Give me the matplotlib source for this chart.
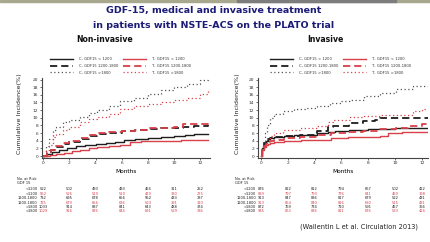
import matplotlib
matplotlib.use("Agg")
import matplotlib.pyplot as plt
import matplotlib.patches as mpatches

# ---------------- data ----------------
title_lines = ["GDF-15, medical and invasive treatment",
               "in patients with NSTE-ACS on the PLATO trial"]
panel_titles = ["Non-invasive", "Invasive"]
series_labels = ["C, GDF15 < 1200", "C, GDF15 1200-1800", "C, GDF15 >1800",
                 "T, GDF15 < 1200", "T, GDF15 1200-1800", "T, GDF15 >1800"]
x_ticks = [0, 2, 4, 6, 8, 10, 12]
y_ticks = [0, 2, 4, 6, 8, 10, 12, 14, 16, 18, 20]
risk_row_labels = ["<1200", "<1200", "1200-1800", "1200-1800", ">1800", ">1800"]
risk_months = [0, 2, 4, 6, 8, 10, 12]

# Non-invasive curves (months, cumulative incidence %)
ni_c_low_t = [0, 0.3, 0.7, 1.2, 1.8, 2.5, 3.2, 4.0, 4.8, 5.5, 6.2, 7.0, 8.0, 9.0, 10.0, 10.8, 11.5, 12.6]
ni_c_low_v = [0, 0.5, 1.0, 1.6, 2.1, 2.7, 2.9, 3.1, 3.4, 3.7, 4.1, 4.5, 4.8, 5.0, 5.3, 5.6, 5.8, 5.8]
ni_t_low_t = [0, 0.5, 1.0, 1.6, 2.2, 2.8, 3.5, 4.1, 5.0, 5.9, 6.6, 7.5, 8.5, 9.5, 10.5, 11.3, 12.6]
ni_t_low_v = [0, 0.3, 0.5, 0.8, 1.2, 1.6, 2.0, 2.4, 2.7, 2.9, 3.6, 3.8, 3.9, 4.0, 4.2, 4.3, 4.3]
ni_c_mid_t = [0, 0.3, 0.6, 1.0, 1.5, 2.0, 2.8, 3.5, 4.1, 5.0, 6.0, 7.0, 8.0, 9.0, 10.0, 10.7, 11.5, 12.6]
ni_c_mid_v = [0, 0.8, 1.5, 2.3, 3.1, 3.7, 4.5, 5.3, 5.8, 6.1, 6.5, 6.9, 7.1, 7.3, 7.4, 7.6, 7.9, 8.0]
ni_t_mid_t = [0, 0.3, 0.6, 1.0, 1.5, 2.0, 2.8, 3.5, 4.1, 5.0, 6.0, 7.0, 8.0, 9.0, 10.0, 10.7, 11.5, 12.6]
ni_t_mid_v = [0, 0.9, 1.6, 2.5, 3.3, 3.9, 4.8, 5.5, 5.9, 6.2, 6.6, 6.9, 7.2, 7.4, 7.7, 8.3, 8.5, 8.6]
ni_c_high_t = [0, 0.2, 0.4, 0.76, 1.0, 1.5, 2.0, 2.8, 3.5, 4.1, 5.0, 5.9, 6.9, 8.0, 9.0, 10.0, 11.0, 12.0, 12.6]
ni_c_high_v = [0, 2.5, 4.5, 6.7, 7.7, 8.8, 9.5, 10.3, 11.2, 12.0, 13.0, 14.3, 15.2, 16.2, 17.2, 18.0, 18.9, 20.0, 20.8]
ni_t_high_t = [0, 0.2, 0.4, 0.76, 1.0, 1.5, 2.0, 2.8, 3.5, 4.1, 5.0, 5.9, 6.9, 8.0, 9.0, 10.0, 11.0, 12.0, 12.6]
ni_t_high_v = [0, 1.5, 3.0, 5.0, 5.7, 6.7, 7.6, 8.9, 9.6, 10.2, 11.0, 12.3, 13.0, 13.6, 14.1, 14.6, 15.2, 16.3, 17.1]

# Invasive curves
iv_c_low_t = [0, 0.05, 0.1, 0.2, 0.35, 0.5, 0.7, 1.0, 1.7, 2.5, 3.3, 4.2, 5.0, 5.5, 6.6, 8.0, 9.0, 10.0, 12.5]
iv_c_low_v = [0, 1.0, 2.0, 3.3, 4.0, 4.4, 4.75, 4.9, 5.2, 5.4, 5.6, 6.05, 6.3, 6.5, 6.9, 7.0, 7.0, 7.35, 7.35]
iv_t_low_t = [0, 0.05, 0.1, 0.2, 0.35, 0.5, 0.7, 1.0, 1.7, 3.0, 4.2, 5.2, 6.5, 7.7, 8.9, 9.5, 10.5, 11.5, 12.5]
iv_t_low_v = [0, 0.8, 1.5, 2.3, 2.9, 3.2, 3.4, 3.6, 3.9, 4.1, 4.3, 4.75, 4.9, 5.0, 5.2, 6.0, 6.2, 6.4, 6.5]
iv_c_mid_t = [0, 0.05, 0.1, 0.2, 0.35, 0.5, 0.7, 1.0, 1.7, 2.9, 4.2, 5.0, 5.4, 6.6, 7.6, 8.5, 8.9, 10.0, 12.5]
iv_c_mid_v = [0, 1.0, 2.0, 3.3, 4.0, 4.4, 4.75, 4.9, 5.2, 5.6, 6.5, 7.5, 7.8, 8.7, 9.1, 9.3, 10.0, 10.0, 10.0]
iv_t_mid_t = [0, 0.05, 0.1, 0.2, 0.35, 0.5, 0.7, 1.0, 1.7, 2.9, 4.2, 5.2, 6.5, 7.6, 8.8, 10.1, 11.0, 12.0, 12.5]
iv_t_mid_v = [0, 0.8, 1.6, 2.6, 3.2, 3.6, 3.9, 4.2, 4.6, 5.0, 5.5, 6.0, 6.4, 6.5, 7.0, 7.4, 7.9, 8.5, 8.8]
iv_c_high_t = [0, 0.05, 0.1, 0.17, 0.3, 0.45, 0.67, 1.0, 1.66, 2.5, 3.3, 4.16, 5.15, 6.0, 6.64, 7.7, 8.9, 10.1, 11.35, 12.5]
iv_c_high_v = [0, 1.0, 2.3, 3.9, 6.0, 8.2, 10.0, 11.0, 11.9, 12.2, 12.6, 13.0, 13.9, 14.5, 14.75, 15.6, 16.5, 17.4, 18.2, 18.2]
iv_t_high_t = [0, 0.05, 0.1, 0.17, 0.3, 0.45, 0.67, 1.0, 1.66, 2.9, 4.16, 5.0, 5.4, 6.64, 7.65, 8.9, 10.1, 11.35, 12.0, 12.5]
iv_t_high_v = [0, 0.7, 1.5, 2.6, 3.5, 4.4, 5.2, 6.0, 6.9, 7.3, 7.8, 9.0, 9.5, 10.2, 10.4, 10.6, 10.8, 11.7, 12.2, 12.6]

# Numbers at risk (rows in order of risk_row_labels; C then T alternating)
ni_risk = [[522, 502, 493, 483, 464, 311, 252],
           [552, 526, 519, 510, 429, 330, 275],
           [732, 695, 678, 656, 552, 433, 337],
           [725, 679, 656, 636, 524, 391, 310],
           [1033, 914, 887, 841, 643, 488, 374],
           [1029, 916, 876, 844, 691, 529, 386]]
iv_risk = [[876, 822, 812, 794, 667, 502, 412],
           [839, 797, 793, 776, 641, 469, 398],
           [913, 847, 836, 817, 679, 522, 431],
           [913, 854, 840, 816, 680, 515, 431],
           [872, 769, 734, 710, 591, 457, 366],
           [945, 863, 836, 811, 676, 533, 424]]

# ---------------- styling ----------------
BLACK = "#1e1e1e"
GRAY = "#555555"
RED = "#d8404a"
NAVY = "#1c1c78"

W, H = 430, 242
fig = plt.figure(figsize=(W / 100, H / 100), dpi=100)
fig.patch.set_facecolor("white")

# thin top bar
fig.patches.append(mpatches.Rectangle((0, 1 - 2.2 / H), 1, 2.2 / H, transform=fig.transFigure,
                                      color="#a7a88e", zorder=0))
fig.patches.append(mpatches.Rectangle((0.55, 1 - 2.2 / H), 0.37, 2.2 / H, transform=fig.transFigure,
                                      color="#7d7d7d", zorder=0))

fig.text(0.496, 1 - 10.5 / H, title_lines[0], ha="center", va="center",
         fontsize=6.8, fontweight="bold", color=NAVY)
fig.text(0.496, 1 - 25 / H, title_lines[1], ha="center", va="center",
         fontsize=6.8, fontweight="bold", color=NAVY)


def fx(px):
    return px / W


def fy(py):
    return 1 - py / H


panels = [
    dict(rect=[fx(41.7), fy(157.7), fx(210 - 41.7), (157.7 - 78) / H], xlim=(-0.12, 12.74),
         title_x=105, curves=[(ni_c_low_t, ni_c_low_v), (ni_c_mid_t, ni_c_mid_v), (ni_c_high_t, ni_c_high_v),
                              (ni_t_low_t, ni_t_low_v), (ni_t_mid_t, ni_t_mid_v), (ni_t_high_t, ni_t_high_v)],
         risk=ni_risk, ylabel_x=20, leg_anchor=(50, 57), label_right=37.5, risk_head_x=17),
    dict(rect=[fx(258), fy(157.7), fx(428 - 258), (157.7 - 78) / H], xlim=(-0.22, 12.46),
         title_x=325, curves=[(iv_c_low_t, iv_c_low_v), (iv_c_mid_t, iv_c_mid_v), (iv_c_high_t, iv_c_high_v),
                              (iv_t_low_t, iv_t_low_v), (iv_t_mid_t, iv_t_mid_v), (iv_t_high_t, iv_t_high_v)],
         risk=iv_risk, ylabel_x=238, leg_anchor=(270, 57), label_right=256, risk_head_x=235),
]

styles = [
    dict(color=BLACK, ls="-", lw=1.0),
    dict(color=BLACK, ls=(0, (4, 2.2)), lw=1.3),
    dict(color=GRAY, ls=(0, (1, 2)), lw=0.9),
    dict(color=RED, ls="-", lw=1.0),
    dict(color=RED, ls=(0, (4, 2.2)), lw=1.3),
    dict(color=RED, ls=(0, (1, 2)), lw=0.9),
]

TFS = 2.6
for idx, p in enumerate(panels):
    ax = fig.add_axes(p["rect"])
    handles = []
    for (t, v), st, lab in zip(p["curves"], styles, series_labels):
        h, = ax.plot(t, v, drawstyle="steps-post", label=lab, **st)
        handles.append(h)
    ax.set_xlim(*p["xlim"])
    ax.set_ylim(-0.44, 20.4)
    ax.set_xticks(x_ticks)
    ax.set_yticks(y_ticks)
    ax.tick_params(labelsize=3.2, length=1.6, width=0.5, pad=1, colors="#333333")
    for s in ["top", "right"]:
        ax.spines[s].set_visible(False)
    for s in ["left", "bottom"]:
        ax.spines[s].set_linewidth(0.8)
        ax.spines[s].set_color("#444444")
    ax.set_xlabel("Months", fontsize=4.2, labelpad=2.5)
    fig.text(fx(p["ylabel_x"]), fy(114), "Cumulative Incidence(%)", rotation=90,
             ha="center", va="center", fontsize=4.6, color="#222222")
    fig.text(fx(p["title_x"]), fy(39), panel_titles[idx],
             ha="center", va="center", fontsize=5.6, fontweight="bold", color="#111111")

    leg = fig.legend(handles=handles, loc="upper left",
                     bbox_to_anchor=(fx(p["leg_anchor"][0]), fy(p["leg_anchor"][1])),
                     ncol=2, fontsize=2.7, frameon=False, handlelength=6.0,
                     handletextpad=1.8, labelspacing=0.75, columnspacing=1.2,
                     borderpad=0, borderaxespad=0)
    for txt in leg.get_texts():
        txt.set_color("#333333")

    # number at risk table
    fig.text(fx(p["risk_head_x"]), fy(178.5), "No. at Risk", fontsize=TFS, va="center", color="#222222")
    fig.text(fx(p["risk_head_x"]), fy(183.3), "GDF 15", fontsize=TFS, va="center", color="#222222")
    row_y = [189, 193.6, 198.2, 202.6, 207, 211.4]
    for i, (lab, row) in enumerate(zip(risk_row_labels, p["risk"])):
        col = BLACK if i % 2 == 0 else RED
        fig.text(fx(p["label_right"]), fy(row_y[i]), lab, fontsize=TFS, ha="right", va="center", color="#222222")
        for m, val in zip(risk_months, row):
            xd = ax.transData.transform((m, 0))[0]
            xfig = fig.transFigure.inverted().transform((xd, 0))[0]
            fig.text(xfig, fy(row_y[i]), str(val), fontsize=TFS, ha="center", va="center", color=col)

fig.text(fx(359), fy(227), "(Wallentin L et al. Circulation 2013)", ha="center", va="center",
         fontsize=4.8, color="#222222")

fig.savefig("out.png", dpi=100, facecolor="white")
